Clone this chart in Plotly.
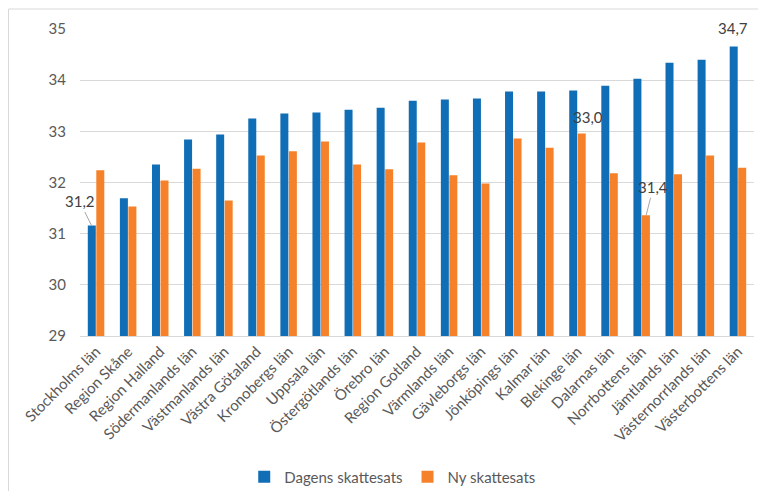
import plotly.graph_objects as go

categories = ["Stockholms län", "Region Skåne", "Region Halland", "Södermanlands län",
              "Västmanlands län", "Västra Götaland", "Kronobergs län", "Uppsala län",
              "Östergötlands län", "Örebro län", "Region Gotland", "Värmlands län",
              "Gävleborgs län", "Jönköpings län", "Kalmar län", "Blekinge län",
              "Dalarnas län", "Norrbottens län", "Jämtlands län", "Västernorrlands län",
              "Västerbottens län"]
dagens = [31.16, 31.69, 32.35, 32.84, 32.94, 33.25, 33.35, 33.37, 33.42, 33.46, 33.60,
          33.62, 33.64, 33.78, 33.78, 33.80, 33.89, 34.03, 34.34, 34.40, 34.66]
ny = [32.24, 31.53, 32.04, 32.27, 31.65, 32.53, 32.61, 32.80, 32.35, 32.26, 32.78,
      32.14, 31.98, 32.86, 32.68, 32.96, 32.18, 31.36, 32.16, 32.53, 32.29]
y_ticks = [29, 30, 31, 32, 33, 34, 35]

FONT = "Lato, Roboto, Liberation Sans, sans-serif"
GRAY = "#595959"
BLUE = "#106EB6"
ORANGE = "#F5822A"

def fmt(v):
    return f"{round(v, 1):.1f}".replace(".", ",")

fig = go.Figure()
fig.add_trace(go.Bar(x=categories, y=dagens, name="Dagens skattesats", marker_color=BLUE,
                     marker_line_width=0))
fig.add_trace(go.Bar(x=categories, y=ny, name="Ny skattesats", marker_color=ORANGE,
                     marker_line_width=0))

ann_font = dict(family=FONT, size=15, color="#404040")
i0 = 0
i16 = categories.index("Blekinge län")
i18 = categories.index("Norrbottens län")
i21 = categories.index("Västerbottens län")
annotations = [
    dict(x=categories[i0], y=dagens[i0], text=fmt(dagens[i0]), xshift=-4.5,
         showarrow=True, arrowhead=0, arrowwidth=1, arrowcolor="#a6a6a6", ax=-12, ay=-24,
         font=ann_font),
    dict(x=categories[i18], y=ny[i18], text=fmt(ny[i18]), xshift=4.5,
         showarrow=True, arrowhead=0, arrowwidth=1, arrowcolor="#a6a6a6", ax=7, ay=-28,
         font=ann_font),
    dict(x=categories[i16], y=ny[i16], text=fmt(ny[i16]), xshift=11, yshift=16,
         showarrow=False, font=ann_font),
    dict(x=categories[i21], y=dagens[i21], text=fmt(dagens[i21]), xshift=-4.5, yshift=18,
         showarrow=False, font=ann_font),
]

fig.update_layout(
    width=750, height=483,
    margin=dict(l=72, r=4, t=21, b=155, autoexpand=False),
    paper_bgcolor="white", plot_bgcolor="white",
    barmode="group", bargap=0.47, bargroupgap=0.06,
    font=dict(family=FONT, color=GRAY),
    showlegend=True,
    legend=dict(orientation="h", x=0.464, xanchor="center", y=-0.459, yanchor="middle",
                font=dict(family=FONT, size=15, color=GRAY), itemwidth=30),
    annotations=annotations,
    shapes=[dict(type="rect", xref="paper", yref="paper", x0=-0.1061, x1=1.05,
                 y0=-0.7, y1=1.0651, line=dict(color="#d9d9d9", width=1), layer="below")],
)
fig.update_yaxes(range=[29, 35], tickvals=y_ticks, ticktext=[str(v) for v in y_ticks],
                 showgrid=True, gridcolor="#d9d9d9", gridwidth=1, zeroline=False,
                 showline=False, ticks="", tickfont=dict(family=FONT, size=15, color=GRAY),
                 ticklabelstandoff=13, automargin=False)
fig.update_xaxes(range=[-0.5, len(categories) - 0.5], showline=True, linecolor="#d9d9d9",
                 linewidth=1, ticks="", tickangle=-45,
                 tickfont=dict(family=FONT, size=15, color=GRAY), automargin=False)

fig.write_html("out.html")
